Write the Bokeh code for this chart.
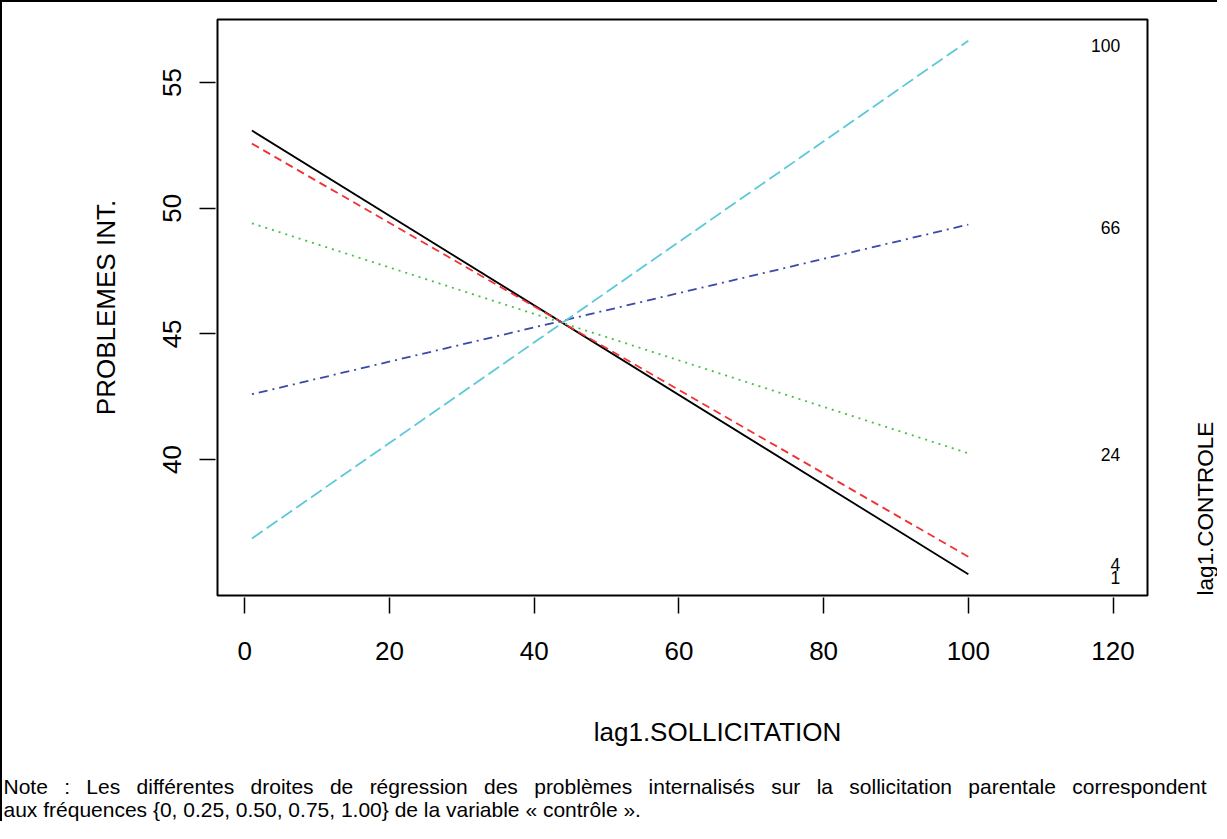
import math
from bokeh.plotting import figure
from bokeh.models import Range1d, FixedTicker, Title, BoxAnnotation
from bokeh.core.properties import value
from bokeh.embed import file_html
from bokeh.resources import INLINE

# ---- data ----
x_levels = [1, 100]
control_levels = ["1", "4", "24", "66", "100"]
y_start = [53.09, 52.57, 49.40, 42.60, 36.86]
y_end = [35.44, 36.13, 40.25, 49.35, 56.66]
legend_y = [35.30, 35.83, 40.21, 49.23, 56.47]
legend_x = 121
x_lim = [1, 120]                  # R xlim (includes room for the level labels)
x_ticks = [0, 20, 40, 60, 80, 100, 120]
y_ticks = [40, 45, 50, 55]
legend_title = "lag1.CONTROLE"
legend_title_pos = (132.8, 38.05)
x_title = "lag1.SOLLICITATION"
y_title = "PROBLEMES INT."
note_lines = [
    "Note : Les différentes droites de régression des problèmes internalisés sur la sollicitation parentale correspondent",
    "aux fréquences {0, 0.25, 0.50, 0.75, 1.00} de la variable « contrôle ».",
]

colors = ["#000000", "#F03232", "#45C045", "#3A4AA6", "#5CC9DA"]
dashes = ["solid", "8 5", "2 5", "2 5 9 5", "13 5"]
FONT = "Liberation Sans"

# R-style 4% range expansion
all_y = y_start + y_end
y_min, y_max = min(all_y), max(all_y)
x_lo = x_lim[0] - 0.04 * (x_lim[1] - x_lim[0])
x_hi = x_lim[1] + 0.04 * (x_lim[1] - x_lim[0])
y_lo = y_min - 0.04 * (y_max - y_min)
y_hi = y_max + 0.04 * (y_max - y_min)

BOX_W, BOX_H = 930, 576           # plot box size in px
PAD_L, PAD_R, PAD_T, PAD_B = 2, 72, 2, 2
ux = (x_hi - x_lo) / BOX_W
uy = (y_hi - y_lo) / BOX_H

W, H = 1217, 821
p = figure(width=W, height=H, output_backend="svg", toolbar_location=None,
           x_range=Range1d(x_lo - PAD_L * ux, x_hi + PAD_R * ux),
           y_range=Range1d(y_lo - PAD_B * uy, y_hi + PAD_T * uy),
           min_border_left=213, min_border_right=0, min_border_top=15,
           min_border_bottom=H - 15 - (BOX_H + PAD_T + PAD_B))
p.styles = {"border-left": "2px solid black", "border-top": "2px solid black"}
p.grid.visible = False
p.outline_line_color = None
p.background_fill_color = "white"
p.border_fill_color = "white"

# the R plot box
p.add_layout(BoxAnnotation(left=x_lo, right=x_hi, bottom=y_lo, top=y_hi,
                           fill_alpha=0, line_color="black", line_alpha=1.0,
                           line_width=2))

for i, lev in enumerate(control_levels):
    p.line(x_levels, [y_start[i], y_end[i]], line_color=colors[i], line_width=1.8,
           line_dash=dashes[i])

p.text(x=[legend_x] * len(control_levels), y=legend_y, text=control_levels,
       text_font=value(FONT), text_font_size="17.5px", text_align="right",
       text_baseline="middle", text_color="black")

p.text(x=[legend_title_pos[0]], y=[legend_title_pos[1]], text=[legend_title],
       angle=math.pi / 2, text_font=value(FONT), text_font_size="22.5px",
       text_align="center", text_baseline="middle", text_color="black")

for ax in (p.xaxis[0], p.yaxis[0]):
    ax.axis_line_color = None
    ax.major_tick_in = 0
    ax.major_tick_out = 16
    ax.major_tick_line_width = 1.5
    ax.minor_tick_line_color = None
    ax.major_label_text_font = FONT
    ax.major_label_text_font_size = "26px"
    ax.major_label_text_color = "black"
    ax.axis_label_text_font = FONT
    ax.axis_label_text_font_size = "26px"
    ax.axis_label_text_font_style = "normal"
    ax.axis_label_text_color = "black"

p.xaxis[0].ticker = FixedTicker(ticks=x_ticks)
p.yaxis[0].ticker = FixedTicker(ticks=y_ticks)
p.xaxis[0].major_label_standoff = 28
p.yaxis[0].major_label_standoff = 18
p.yaxis[0].major_label_orientation = "vertical"
p.xaxis[0].axis_label = x_title
p.xaxis[0].axis_label_standoff = 54
p.yaxis[0].axis_label = y_title
p.yaxis[0].axis_label_standoff = 40

# note below the chart (first line justified to the full width, as in the reference)
line1 = note_lines[0].replace(" ", " \u2002")
note = Title(text="\n".join(["", line1, note_lines[1]]), align="left", offset=-212,
             standoff=0, text_font=FONT, text_font_size="21px",
             text_font_style="normal", text_color="black", text_line_height=1.0)
p.add_layout(note, "below")

open("out.html", "w").write(file_html(p, INLINE))
